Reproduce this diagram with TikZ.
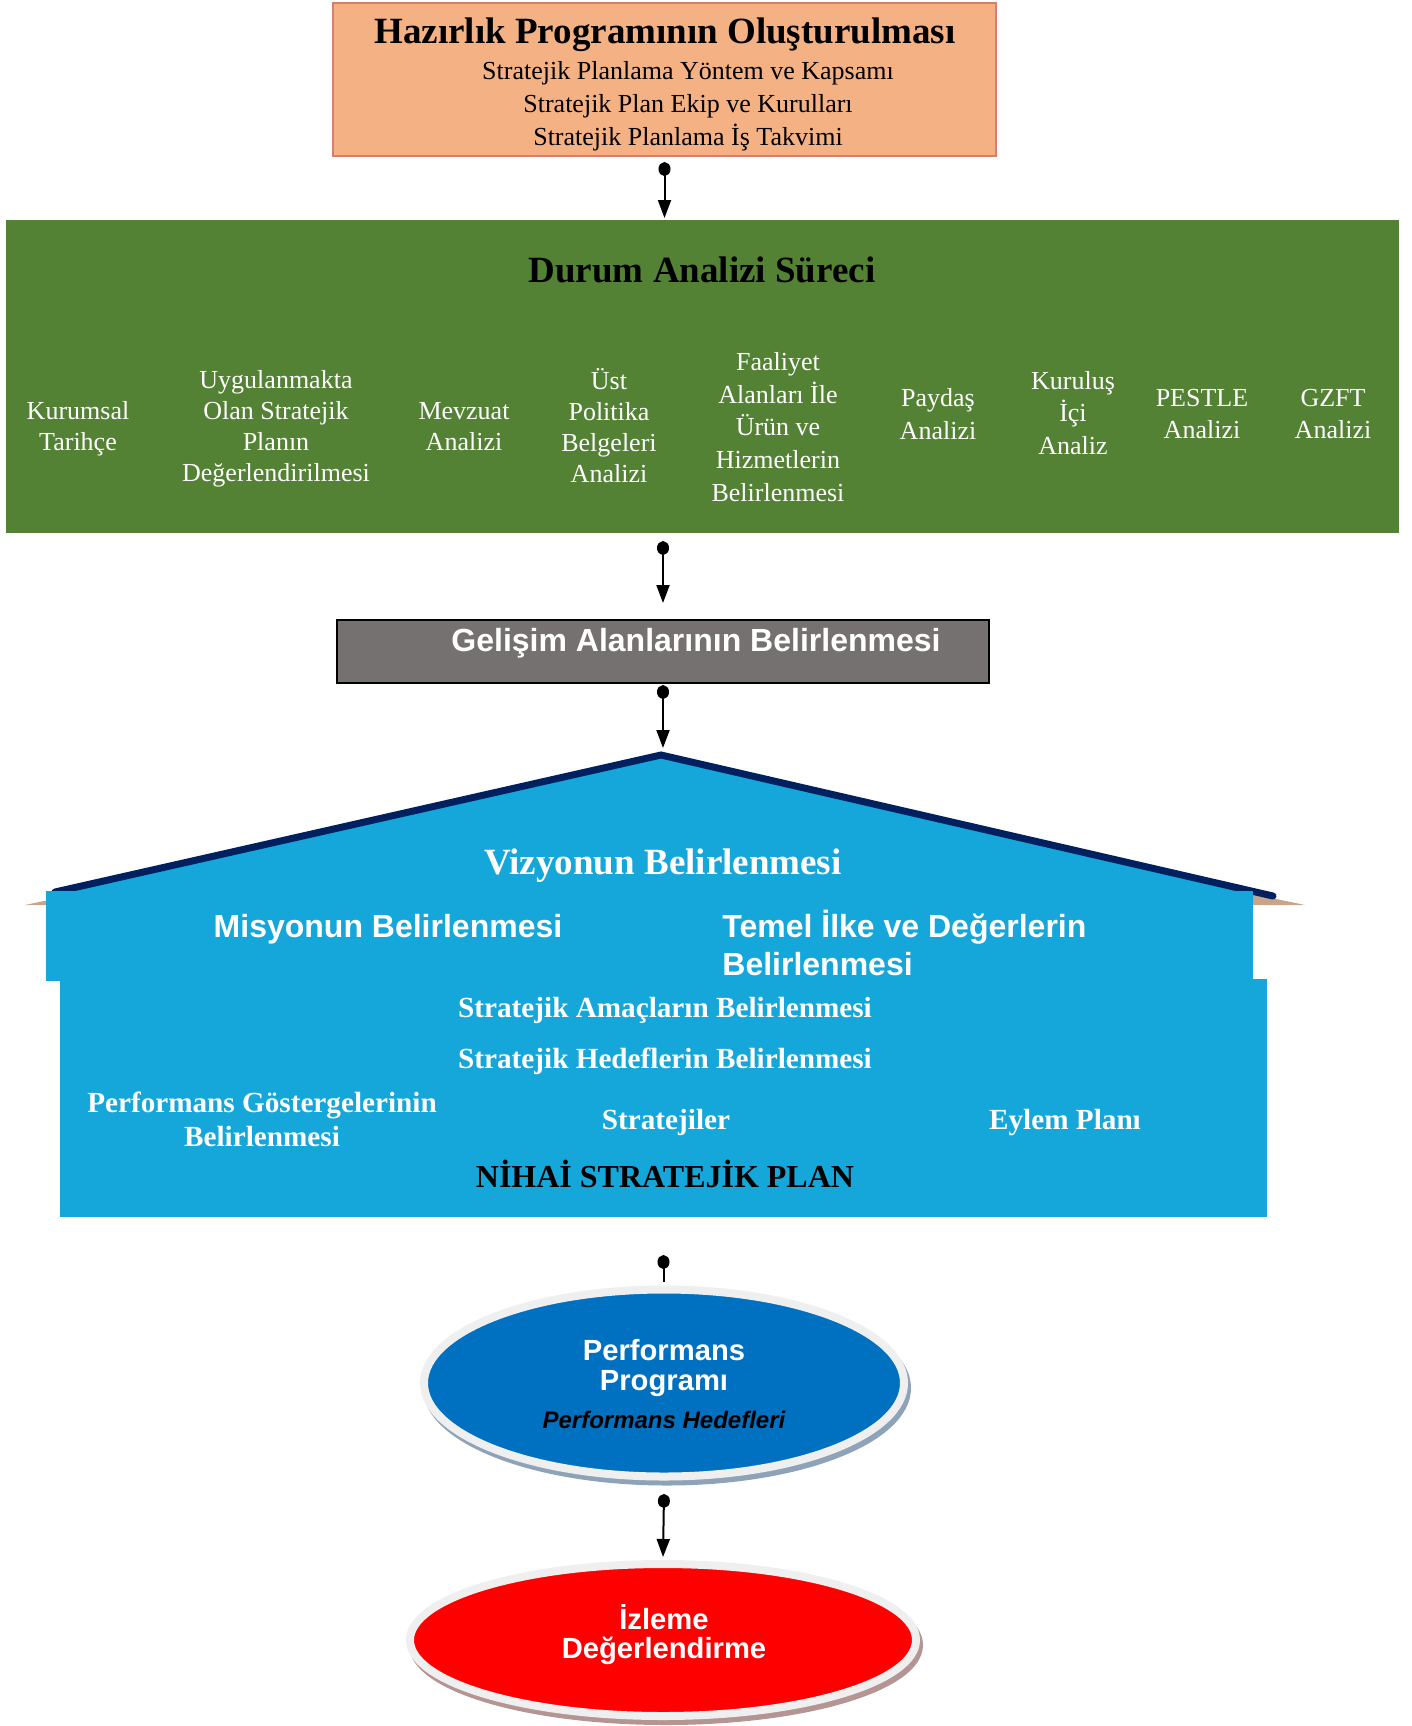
\documentclass[tikz,border=0pt]{standalone}
\usepackage{fontspec}
\setmainfont{Liberation Serif}
\setsansfont{Liberation Sans}
\usetikzlibrary{arrows.meta,shapes.geometric}
\definecolor{peach}{HTML}{F4B183}
\definecolor{peachline}{HTML}{D4806C}
\definecolor{dgreen}{HTML}{548235}
\definecolor{gbox}{HTML}{767171}
\definecolor{hblue}{HTML}{15A6DA}
\definecolor{navy}{HTML}{002060}
\definecolor{roofTan}{HTML}{C8A48A}
\definecolor{pblue}{HTML}{0070C0}
\definecolor{ringcol}{HTML}{EFEFEF}
\definecolor{shblue}{HTML}{8EA3B8}
\definecolor{shred}{HTML}{B59494}
\begin{document}
\begin{tikzpicture}[x=0.5pt,y=-0.5pt,
  boxnode/.style={rectangle, inner sep=0pt, outer sep=0pt},
  conn/.style={line width=1pt, arrows={Circle[length=7pt,width=6pt]-Triangle[length=9pt,width=6.5pt]}},
  connDot/.style={line width=1pt, arrows={Circle[length=7pt,width=6pt]-}},
  itemA/.style={text=white, align=center, inner sep=0pt, font=\fontsize{13}{15.5}\selectfont},
  itemB/.style={text=white, align=center, inner sep=0pt, font=\fontsize{13}{16.4}\selectfont},
  bigtitle/.style={inner sep=0pt, font=\bfseries\fontsize{18.5}{22}\selectfont},
  wsans/.style={text=white, inner sep=0pt, font=\sffamily\bfseries\fontsize{16}{18.7}\selectfont},
  wserif/.style={text=white, inner sep=0pt, align=center, font=\bfseries\fontsize{14.6}{17}\selectfont},
  ellnode/.style={ellipse, inner sep=0pt, line width=4pt, draw=ringcol}
]
\useasboundingbox (0,0) rectangle (1412,1726);

% ---------- top box ----------
\node[boxnode, fill=peach, draw=peachline, line width=0.6pt,
      minimum width=331.5pt, minimum height=76.5pt] (top) at (664.5,79.5) {};
\node[bigtitle] (topT) at (665,35) {Hazırlık Programının Oluşturulması};
\node[inner sep=0pt, align=center, font=\fontsize{13}{16.5}\selectfont] (topS) at (688,106)
  {Stratejik Planlama Yöntem ve Kapsamı\\Stratejik Plan Ekip ve Kurulları\\Stratejik Planlama İş Takvimi};

% ---------- green box ----------
\node[boxnode, fill=dgreen, minimum width=696.5pt, minimum height=156.5pt] (green) at (702.5,376.5) {};
\node[bigtitle] (greenT) at (702,270) {Durum Analizi Süreci};
\node[itemA] (i1) at (78,429) {Kurumsal\\Tarihçe};
\node[itemA] (i2) at (276,429) {Uygulanmakta\\Olan Stratejik\\Planın\\Değerlendirilmesi};
\node[itemA] (i3) at (464,427) {Mevzuat\\Analizi};
\node[itemA] (i4) at (609,426) {Üst\\Politika\\Belgeleri\\Analizi};
\node[itemB] (i5) at (778,427) {Faaliyet\\Alanları İle\\Ürün ve\\Hizmetlerin\\Belirlenmesi};
\node[itemB] (i6) at (938,414) {Paydaş\\Analizi};
\node[itemB] (i7) at (1073,413) {Kuruluş\\İçi\\Analiz};
\node[itemB] (i8) at (1202,414) {PESTLE\\Analizi};
\node[itemB] (i9) at (1333,414) {GZFT\\Analizi};

% ---------- gray box ----------
\node[boxnode, fill=gbox, draw=black, line width=0.6pt,
      minimum width=326pt, minimum height=31.5pt] (gray) at (663,651.5) {};
\node[wsans] (grayT) at (696,643.5) {Gelişim Alanlarının Belirlenmesi};

% ---------- house ----------
\coordinate (apex) at (661,755);
\fill[roofTan] (25,905) -- (661,770) -- (1305,905) -- cycle;
\fill[hblue] (50,893) -- (apex) -- (1253,895) -- (1253,900) -- (50,900) -- cycle;
\draw[navy, line width=3.5pt, line cap=round, line join=miter] (55,892) -- (apex) -- (1273,896);
\node[boxnode, fill=hblue, minimum width=603.5pt, minimum height=45pt] (houseTop) at (649.5,936) {};
\node[boxnode, fill=hblue, minimum width=603.5pt, minimum height=119pt] (house) at (663.5,1098) {};

\node[bigtitle, text=white] (viz) at (663,866) {Vizyonun Belirlenmesi};
\node[wsans] (mis) at (388,929) {Misyonun Belirlenmesi};
\node[wsans, anchor=west, align=left] (tem) at (722,943) {Temel İlke ve Değerlerin\\Belirlenmesi};
\node[wserif] (ama) at (665,1010) {Stratejik Amaçların Belirlenmesi};
\node[wserif] (hed) at (665,1061) {Stratejik Hedeflerin Belirlenmesi};
\node[wserif] (pg) at (262,1119) {Performans Göstergelerinin\\Belirlenmesi};
\node[wserif] (str) at (666,1122) {Stratejiler};
\node[wserif] (eyl) at (1065,1123) {Eylem Planı};
\node[inner sep=0pt, font=\bfseries\fontsize{16}{19}\selectfont] (nih) at (665,1174) {NİHAİ STRATEJİK PLAN};

% ---------- ellipses ----------
\node[ellnode, fill=pblue, minimum width=240pt, minimum height=93.5pt,
      preaction={draw=shblue, fill=shblue, line width=4pt, transform canvas={xshift=1.5pt,yshift=-2.5pt}}]
      (perf) at (664,1383) {};
\node[inner sep=0pt, text=white, align=center, font=\sffamily\bfseries\fontsize{14.6}{15}\selectfont]
      (perfT) at (664,1368) {Performans\\Programı};
\node[inner sep=0pt, font=\sffamily\bfseries\itshape\fontsize{12}{14}\selectfont]
      (perfH) at (664,1420) {Performans Hedefleri};

\node[ellnode, fill=red, minimum width=253pt, minimum height=76pt,
      preaction={draw=shred, fill=shred, line width=4pt, transform canvas={xshift=1.5pt,yshift=-2.5pt}}]
      (izl) at (663,1640) {};
\node[inner sep=0pt, text=white, align=center, font=\sffamily\bfseries\fontsize{14.6}{14.5}\selectfont]
      (izlT) at (664,1634.5) {İzleme\\Değerlendirme};

% ---------- connectors ----------
\draw[conn] ([yshift=-3pt]top.south) -- ([yshift=1pt]top.south |- green.north);
\draw[conn] ([yshift=-4pt]gray.north |- green.south) -- ([yshift=8.5pt]gray.north);
\draw[conn] ([yshift=-1pt]gray.south) -- ([yshift=3.5pt]gray.south |- apex);
\draw[connDot] ([yshift=-19pt]house.south) -- ([yshift=2pt]house.south |- perf.north);
\draw[conn] ([yshift=-6.75pt]perf.south) -- ([yshift=1.5pt]izl.north);
\end{tikzpicture}
\end{document}
